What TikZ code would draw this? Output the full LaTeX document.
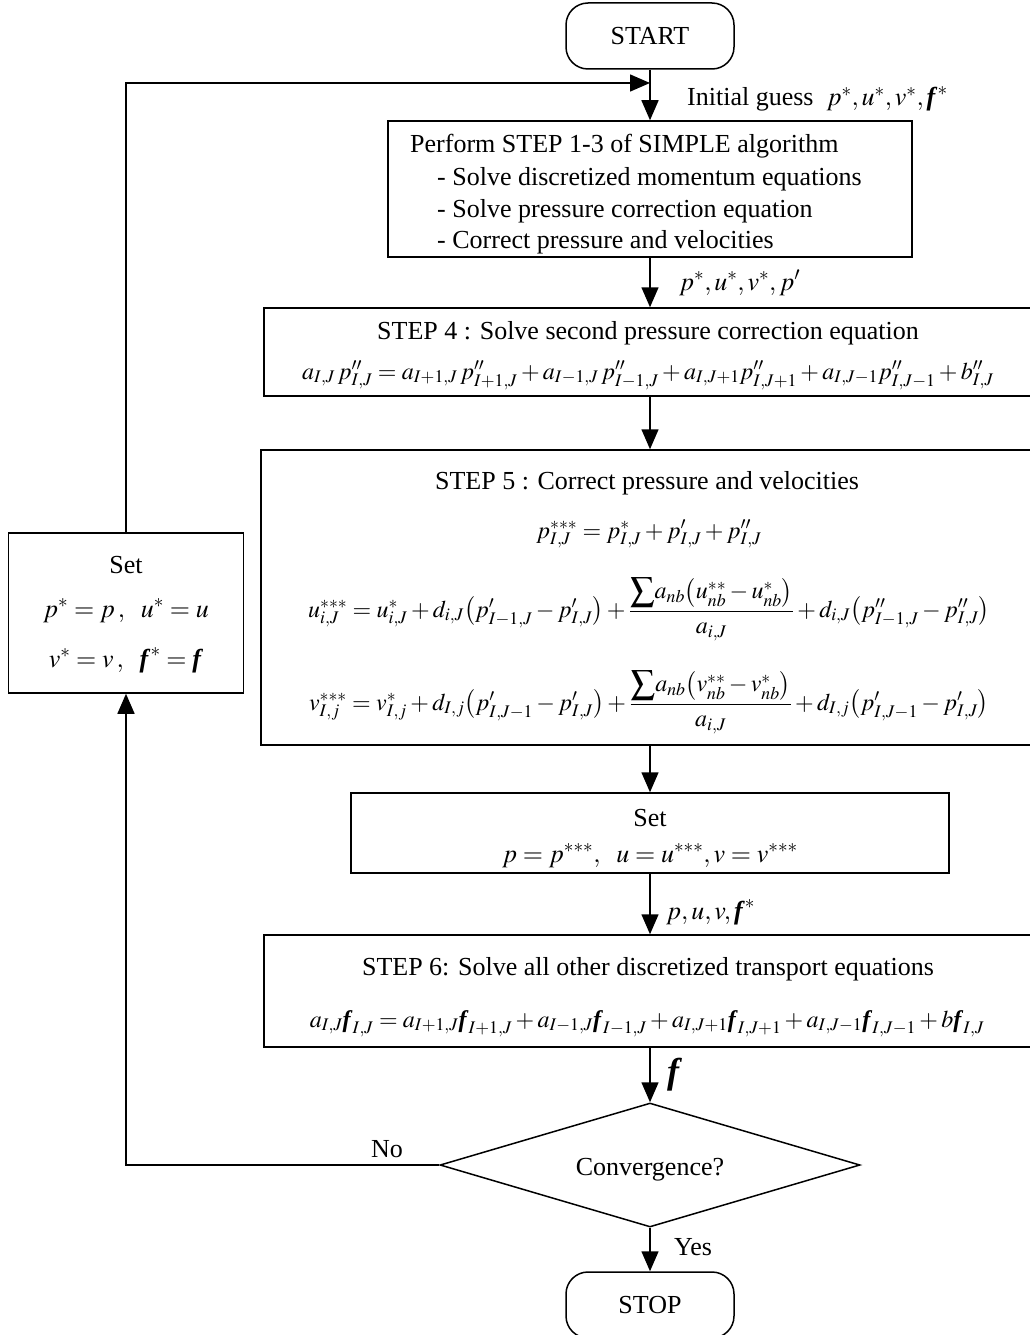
\documentclass[tikz,border=0pt]{standalone}
\usepackage{amsmath}
\usepackage{mathptmx}
\usepackage[no-math]{fontspec}
\setmainfont{Liberation Serif}
\usetikzlibrary{shapes.geometric,arrows.meta}
\newcommand{\bff}{\textbf{\textit{f}}}

\begin{document}
\begin{tikzpicture}[x=1pt,y=-1pt,
  every node/.style={font=\fontsize{26}{32}\selectfont},
  box/.style={draw,line width=1.5pt,inner sep=0pt},
  txt/.style={anchor=base,inner sep=0pt},
  eq/.style={txt,font=\fontsize{24}{28}\selectfont},
  arr/.style={line width=1.5pt,-{Triangle[length=20pt,width=17pt]}}]
\useasboundingbox (0,0) rectangle (1029,1335);

\node[box,rounded corners=22pt,minimum width=168pt,minimum height=66pt] (start) at (650,36) {START};
\node[box,minimum width=524pt,minimum height=136pt] (simple) at (650,189) {};
\node[box,minimum width=772pt,minimum height=88pt] (step4) at (650,352) {};
\node[box,minimum width=778pt,minimum height=295pt] (step5) at (650,597.5) {};
\node[box,minimum width=598pt,minimum height=80pt] (set) at (650,833) {};
\node[box,minimum width=772pt,minimum height=112pt] (step6) at (650,991) {};
\node[box,shape=diamond,minimum width=420pt,minimum height=124pt] (conv) at (650,1165) {};
\node[box,rounded corners=22pt,minimum width=168pt,minimum height=66pt] (stop) at (650,1305) {STOP};
\node[box,minimum width=235pt,minimum height=160pt] (reset) at (126,613) {};
\coordinate (join) at (650,83);

\node[txt,anchor=base west] (guess) at (687,106) {Initial guess\ \ $p^{*},u^{*},v^{*},\bff^{*}$};
\node[txt,anchor=base west] (perform) at (410,153) {Perform STEP 1-3 of SIMPLE algorithm};
\node[txt,anchor=base west] (item1) at (437,185) {- Solve discretized momentum equations};
\node[txt,anchor=base west] (item2) at (437,217) {- Solve pressure correction equation};
\node[txt,anchor=base west] (item3) at (437,248) {- Correct pressure and velocities};
\node[txt,anchor=base west] (lab1) at (679,290) {$p^{*},u^{*},v^{*},p'$};

\node[txt] (t4) at (648,339) {STEP 4 : Solve second pressure correction equation};
\node[eq] (eq4) at (648,379) {$a_{I,J}\,p''_{I,J} = a_{I+1,J}\,p''_{I+1,J} + a_{I-1,J}\,p''_{I-1,J} + a_{I,J+1}p''_{I,J+1} + a_{I,J-1}p''_{I,J-1} + b''_{I,J}$};

\node[txt] (t5) at (647,489) {STEP 5 : Correct pressure and velocities};
\node[eq] (eqp) at (649,538) {$p^{***}_{I,J} = p^{*}_{I,J} + p'_{I,J} + p''_{I,J}$};
\node[eq] (equ) at (649,617) {$u^{***}_{i,J} = u^{*}_{i,J} + d_{i,J}\bigl(p'_{I-1,J} - p'_{I,J}\bigr) + \dfrac{{\displaystyle\sum} a_{nb}\bigl(u^{**}_{nb} - u^{*}_{nb}\bigr)}{a_{i,J}} + d_{i,J}\bigl(p''_{I-1,J} - p''_{I,J}\bigr)$};
\node[eq] (eqv) at (649,710) {$v^{***}_{I,j} = v^{*}_{I,j} + d_{I,j}\bigl(p'_{I,J-1} - p'_{I,J}\bigr) + \dfrac{{\displaystyle\sum} a_{nb}\bigl(v^{**}_{nb} - v^{*}_{nb}\bigr)}{a_{i,J}} + d_{I,j}\bigl(p'_{I,J-1} - p'_{I,J}\bigr)$};

\node[txt] (s1) at (650,826) {Set};
\node[txt] (s2) at (650,862) {$p = p^{***},\ \ u = u^{***}, v = v^{***}$};
\node[txt,anchor=base west] (lab2) at (666,919) {$p, u, v, \bff^{*}$};

\node[txt] (t6) at (648,975) {STEP 6: Solve all other discretized transport equations};
\node[eq] (eq6) at (647,1027) {$a_{I,J}\bff_{I,J} = a_{I+1,J}\bff_{I+1,J} + a_{I-1,J}\bff_{I-1,J} + a_{I,J+1}\bff_{I,J+1} + a_{I,J-1}\bff_{I,J-1} + b\bff_{I,J}$};
\node[txt,anchor=base west] (lab3) at (667,1083) {\fontsize{36}{40}\selectfont$\bff$};

\node[txt] (convtxt) at (650,1175) {Convergence?};
\node[txt] (no) at (387,1157) {No};
\node[txt,anchor=base west] (yes) at (674,1255) {Yes};

\node[txt] (r1) at (126,573) {Set};
\node[txt] (r2) at (126,617) {$p^{*} = p\,,\ \ u^{*} = u$};
\node[txt] (r3) at (126,667) {$v^{*} = v\,,\ \ \bff^{*} = \bff$};

\draw[arr] (start.south) -- (simple.north);
\draw[arr] (reset.north) |- (join);
\draw[arr] (simple.south) -- (step4.north);
\draw[arr] (step4.south) -- (step5.north);
\draw[arr] (step5.south) -- (set.north);
\draw[arr] (set.south) -- (step6.north);
\draw[arr] (step6.south) -- (conv.north);
\draw[arr] (conv.south) -- (stop.north);
\draw[arr] (conv.west) -| (reset.south);
\end{tikzpicture}
\end{document}
